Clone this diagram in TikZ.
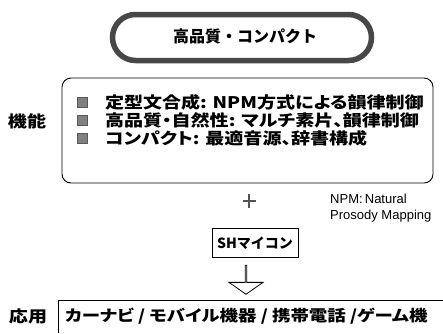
\documentclass[tikz,border=0pt]{standalone}
\usepackage{fontspec}
\setmainfont{Liberation Sans}
\newfontfamily\jp{Noto Sans CJK JP}
\newfontfamily\jpw[RawFeature=+palt, FakeStretch=1.19]{Noto Sans CJK JP}
\usetikzlibrary{shapes.arrows}
\tikzset{
  jptext/.style={font=\jpw\bfseries\fontsize{16}{16}\selectfont, inner sep=0pt, outer sep=0pt},
  pillbox/.style={draw=black!72, line width=5.5pt, rounded corners=23pt, minimum width=259pt, minimum height=46pt, inner sep=0pt},
  funcbox/.style={draw=black, line width=0.9pt, rounded corners=9pt, minimum width=371pt, minimum height=105pt, inner sep=0pt},
  shbox/.style={draw=black, line width=0.9pt, minimum width=86pt, minimum height=29pt, inner sep=0pt},
  bullet/.style={fill=black!50, draw=black!65, line width=0.4pt, minimum size=10pt, inner sep=0pt},
  blockarrow/.style={single arrow, draw=black, line width=0.8pt, shape border rotate=270, minimum width=34pt, minimum height=29pt, single arrow head extend=8.5pt, single arrow tip angle=110, inner sep=0pt},
  plusline/.style={draw=black!68, line width=2.5pt},
  note/.style={font=\fontsize{13}{15.5}\selectfont, align=left, inner sep=0pt, anchor=north west}
}
\begin{document}
\begin{tikzpicture}[x=1pt,y=-1pt]
\useasboundingbox (0,0) rectangle (443,333);
\fill[white] (0,0) rectangle (443,333);
% top pill
\node[pillbox] (pill) at (242,37.5) {};
\node[jptext, font=\jp\bfseries\fontsize{16}{16}\selectfont] (pilltxt) at (245,36) {高品質・コンパクト};
% function box
\node[funcbox] (func) at (247.5,130.5) {};
\node[jptext] (kinou) at (27,121) {機能};
\node[bullet] (b1) at (82.5,102) {};
\node[bullet] (b2) at (82.5,120) {};
\node[bullet] (b3) at (82.5,138) {};
\node[jptext, anchor=west] (l1) at (105,102) {定型文合成: NPM方式による韻律制御};
\node[jptext, anchor=west] (l2) at (105,120) {高品質・自然性: マルチ素片、韻律制御};
\node[jptext, anchor=west] (l3) at (105,138) {コンパクト: 最適音源、辞書構成};
% plus
\coordinate (plus) at (249,201);
\draw[plusline] ([xshift=-6.5pt]plus) -- ([xshift=6.5pt]plus);
\draw[plusline] ([yshift=-7pt]plus) -- ([yshift=7pt]plus);
% note
\node[note] (npm) at (330,194) {NPM:\,Natural\\Prosody Mapping};
% SH box
\node[shbox, font=\jp\bfseries\fontsize{14}{14}\selectfont] (sh) at (255,243) {SHマイコン};
% arrow
\node[blockarrow] (arr) at (246,279.5) {};
% application
\node[jptext] (ouyou) at (28,316) {応用};
\coordinate (appne) at (443,300);
\coordinate (appnw) at (58,300);
\coordinate (appsw) at (58,333);
\draw[line width=0.9pt] (appne) -- (appnw) -- (appsw);
\node[jptext, anchor=west, font=\jpw\bfseries\fontsize{15.5}{15.5}\selectfont] (app) at (65,316) {カーナビ / モバイル機器 / 携帯電話 /ゲーム機};
\end{tikzpicture}
\end{document}
